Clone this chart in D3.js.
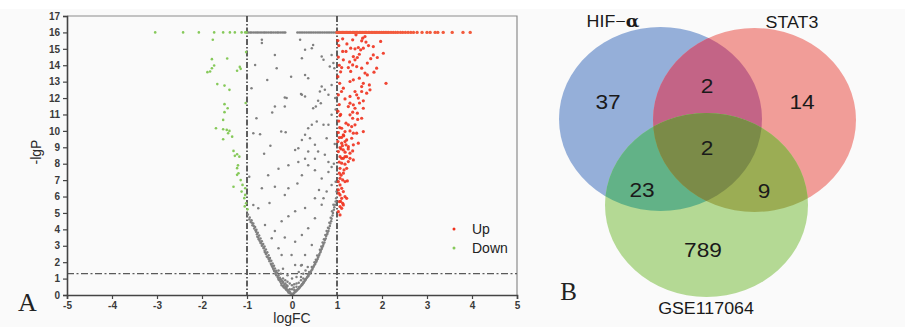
<!DOCTYPE html>
<html>
<head>
<meta charset="utf-8">
<script src="https://cdn.jsdelivr.net/npm/d3@7"></script>
<style>
  html, body { margin: 0; padding: 0; background: #fff; }
  svg { display: block; font-family: "Liberation Sans", Arial, sans-serif; }
</style>
</head>
<body>
<svg id="fig" width="905" height="327"></svg>
<script>
// ---- data ----
const xTicks = [-5, -4, -3, -2, -1, 0, 1, 2, 3, 4, 5];
const yTicks = [0, 1, 2, 3, 4, 5, 6, 7, 8, 9, 10, 11, 12, 13, 14, 15, 16, 17];
const fcCut = [-1, 1];
const pCut = 1.3;
const capLgP = 16;   // -lgP is capped at 16 in the source plot

// points sitting on the cap line (logFC only)
const upCapX = [1.0, 1.03, 1.06, 1.09, 1.12, 1.15, 1.18, 1.21, 1.24, 1.27, 1.3, 1.34, 1.37, 1.4, 1.43, 1.46, 1.5,
  1.53, 1.56, 1.6, 1.63, 1.66, 1.7, 1.73, 1.77, 1.8, 1.84, 1.87, 1.91, 1.95, 1.99, 2.03, 2.07, 2.11, 2.15, 2.2,
  2.25, 2.3, 2.35, 2.41, 2.46, 2.52, 2.58, 2.64, 2.7, 2.78, 2.89, 3.0, 3.07, 3.18, 3.24, 3.36, 3.56, 3.8, 3.96];
const downCapX = [-3.04, -2.42, -2.07, -1.73, -1.53, -1.38, -1.27, -1.12, -1.04, -1.01];
const grayCapX = [-0.97, -0.93, -0.9, -0.86, -0.82, -0.78, -0.75, -0.71, -0.67, -0.63, -0.6, -0.56, -0.52, -0.48,
  -0.45, -0.41, -0.37, -0.33, -0.3, -0.26, -0.22, -0.18, -0.15, 0.12, 0.16, 0.2, 0.24, 0.28, 0.32, 0.36, 0.4,
  0.44, 0.48, 0.52, 0.56, 0.6, 0.64, 0.68, 0.72, 0.76, 0.8, 0.84, 0.88, 0.92, 0.96];

// [logFC, -lgP]
const upPoints = [
  [1.126, 15.61], [1.348, 15.55], [1.422, 15.85], [1.57, 15.65], [1.622, 15.75], [1.548, 15.49], [1.644, 15.41],
  [1.97, 15.45], [1.807, 15.14], [1.304, 15.04], [1.4, 15.0], [1.474, 15.08], [1.526, 14.94], [1.585, 15.04],
  [1.126, 14.84], [1.2, 14.84], [2.03, 14.73], [1.896, 14.47], [1.807, 14.63], [1.363, 14.53], [1.452, 14.47],
  [1.4, 14.33], [1.496, 14.67], [1.141, 14.33], [1.674, 14.13], [1.104, 13.86], [1.252, 13.86], [1.348, 14.02],
  [1.437, 13.92], [1.548, 13.82], [1.881, 13.82], [1.822, 13.58], [1.674, 13.41], [1.622, 13.52], [1.304, 13.62],
  [1.496, 13.21], [1.585, 12.9], [1.719, 12.8], [1.363, 13.11], [1.289, 13.01], [1.548, 12.7], [2.089, 12.9],
  [1.141, 12.6], [1.4, 12.4], [1.548, 12.4], [1.659, 12.3], [1.437, 12.2], [1.289, 12.1], [1.474, 12.0],
  [1.733, 12.5], [1.178, 11.95], [1.585, 11.83], [1.363, 11.59], [1.289, 11.69], [1.252, 11.48], [1.4, 11.38],
  [1.348, 11.14], [1.452, 11.08], [1.585, 11.38], [1.289, 10.98], [1.348, 10.77], [1.067, 10.93], [1.548, 10.77],
  [1.2, 10.47], [1.252, 10.37], [1.326, 10.26], [1.4, 10.37], [1.104, 10.16], [1.178, 9.96], [1.289, 10.0],
  [1.363, 9.86], [1.141, 9.76], [1.052, 9.59], [1.215, 9.45], [1.326, 9.55], [1.437, 9.86], [1.585, 9.96],
  [1.104, 9.25], [1.178, 9.35], [1.067, 8.98], [1.252, 9.04], [1.363, 9.15], [1.141, 8.84], [1.03, 8.74],
  [1.289, 8.64], [1.178, 8.43], [1.104, 8.33], [1.474, 9.25], [1.348, 8.78], [1.02, 9.35],
  [1.067, 8.43], [1.141, 8.33], [1.215, 8.43], [1.289, 8.33], [1.363, 8.23], [1.104, 8.03], [1.178, 7.97],
  [1.252, 8.13], [1.067, 7.72], [1.156, 7.62], [1.215, 7.72], [1.052, 7.42], [1.141, 7.42], [1.067, 7.11],
  [1.126, 7.01], [1.03, 6.91], [1.178, 6.91], [1.23, 6.95], [1.067, 6.71], [1.104, 6.5], [1.03, 6.4],
  [1.141, 6.3], [1.067, 6.1], [1.178, 5.99], [1.104, 5.89], [1.052, 5.69], [1.126, 5.59], [1.067, 5.39],
  [1.104, 5.28], [1.03, 5.08], [1.067, 4.88], [1.141, 5.49], [1.215, 5.89],
  [1.02, 15.5], [1.04, 15.2], [1.03, 14.5], [1.05, 14.0], [1.02, 13.3], [1.06, 12.9], [1.03, 12.2], [1.05, 11.6],
  [1.02, 11.2], [1.04, 10.6], [1.06, 10.2], [1.03, 9.9], [1.08, 13.6], [1.1, 12.4], [1.08, 11.0], [1.1, 9.6],
  [1.09, 8.9], [1.12, 9.1], [1.15, 9.7], [1.2, 9.15], [1.25, 8.9], [1.18, 8.7], [1.05, 8.1], [1.09, 7.3],
  [1.04, 6.2], [1.08, 5.7], [1.22, 15.3], [1.28, 14.2], [1.7, 15.2], [1.75, 14.4], [1.46, 10.7], [1.5, 11.7]
];

const downPoints = [
  [-1.76, 15.55], [-1.78, 14.37], [-1.44, 14.41], [-1.73, 13.98], [-1.78, 13.82], [-1.88, 13.58], [-1.82, 13.62],
  [-1.22, 13.66], [-1.14, 13.78], [-1.66, 12.85], [-1.5, 12.76], [-1.39, 12.5], [-1.5, 11.63], [-1.43, 11.38],
  [-1.5, 11.14], [-1.53, 10.67], [-1.69, 10.16], [-1.53, 10.1], [-1.45, 10.06], [-1.39, 10.0], [-1.42, 9.86],
  [-1.53, 9.49], [-1.33, 9.65], [-1.3, 8.78], [-1.27, 8.48], [-1.22, 8.58], [-1.17, 8.43], [-1.22, 7.73],
  [-1.19, 7.42], [-1.22, 7.32], [-1.3, 6.6], [-1.1, 6.71], [-1.04, 6.5], [-1.12, 6.3], [-1.04, 6.1],
  [-1.06, 5.9], [-1.02, 5.59], [-0.99, 5.22], [-1.03, 11.7], [-1.02, 14.8], [-1.16, 13.9], [-1.2, 7.9],
  [-1.14, 7.0], [-1.05, 5.4]
];

const grayPoints = [
  // left branch of the dense V
  [-0.03, 0.12], [-0.06, 0.22], [-0.09, 0.3], [-0.12, 0.42], [-0.14, 0.5], [-0.17, 0.62], [-0.2, 0.75],
  [-0.22, 0.85], [-0.25, 0.96], [-0.27, 1.05], [-0.3, 1.2], [-0.33, 1.35], [-0.35, 1.48], [-0.38, 1.62],
  [-0.4, 1.78], [-0.43, 1.92], [-0.46, 2.08], [-0.49, 2.25], [-0.52, 2.42], [-0.55, 2.6], [-0.58, 2.78],
  [-0.61, 2.95], [-0.64, 3.1], [-0.67, 3.28], [-0.7, 3.45], [-0.73, 3.62], [-0.76, 3.8], [-0.79, 3.98],
  [-0.82, 4.15], [-0.86, 4.35], [-0.9, 4.55], [-0.94, 4.72], [-0.98, 4.9],
  [-0.01, 0.05], [0.0, 0.02], [-0.05, 0.1], [-0.1, 0.25], [-0.15, 0.4], [-0.18, 0.45], [-0.2, 0.55],
  [-0.24, 0.7], [-0.26, 0.8], [-0.3, 0.95], [-0.31, 1.05], [-0.35, 1.2], [-0.37, 1.3], [-0.4, 1.5],
  [-0.42, 1.6], [-0.44, 1.75], [-0.47, 1.9], [-0.5, 2.05], [-0.52, 2.2], [-0.56, 2.35], [-0.58, 2.5],
  [-0.61, 2.7], [-0.63, 2.85], [-0.67, 3.0], [-0.69, 3.15], [-0.72, 3.3], [-0.75, 3.5], [-0.78, 3.7],
  [-0.8, 3.85], [-0.84, 4.05], [-0.88, 4.25], [-0.92, 4.45], [-0.95, 4.6],
  [-0.08, 0.15], [-0.13, 0.32], [-0.19, 0.52], [-0.23, 0.6], [-0.28, 0.9], [-0.32, 1.1], [-0.36, 1.4],
  [-0.39, 1.45], [-0.43, 1.7], [-0.46, 1.85], [-0.5, 2.15], [-0.54, 2.3], [-0.57, 2.55], [-0.6, 2.6],
  [-0.63, 2.9], [-0.66, 3.05], [-0.7, 3.2], [-0.74, 3.4], [-0.77, 3.55], [-0.81, 3.95], [-0.85, 4.2],
  [-0.89, 4.4],
  // right branch of the dense V
  [0.03, 0.1], [0.06, 0.18], [0.09, 0.25], [0.12, 0.32], [0.15, 0.4], [0.18, 0.5], [0.21, 0.6], [0.24, 0.7],
  [0.27, 0.8], [0.3, 0.92], [0.33, 1.05], [0.36, 1.15], [0.39, 1.28], [0.42, 1.4], [0.45, 1.55], [0.48, 1.72],
  [0.51, 1.88], [0.54, 2.02], [0.57, 2.2], [0.6, 2.4], [0.63, 2.6], [0.66, 2.8], [0.69, 3.0], [0.72, 3.2],
  [0.75, 3.45], [0.78, 3.7], [0.81, 3.9], [0.84, 4.2], [0.87, 4.5], [0.9, 4.85], [0.93, 5.2], [0.96, 5.5],
  [0.98, 5.9], [0.99, 6.3],
  [0.02, 0.05], [0.05, 0.12], [0.08, 0.2], [0.11, 0.28], [0.14, 0.36], [0.17, 0.44], [0.2, 0.55], [0.23, 0.64],
  [0.26, 0.74], [0.28, 0.85], [0.31, 0.98], [0.34, 1.1], [0.37, 1.22], [0.4, 1.35], [0.43, 1.5], [0.46, 1.65],
  [0.49, 1.8], [0.52, 1.95], [0.55, 2.1], [0.58, 2.3], [0.61, 2.5], [0.64, 2.7], [0.67, 2.9], [0.7, 3.1],
  [0.73, 3.35], [0.76, 3.6], [0.79, 3.8], [0.82, 4.05], [0.85, 4.35], [0.88, 4.65], [0.91, 5.0], [0.94, 5.35],
  [0.97, 5.7],
  [0.1, 0.3], [0.16, 0.48], [0.22, 0.66], [0.25, 0.78], [0.29, 0.95], [0.35, 1.25], [0.38, 1.4], [0.44, 1.7],
  [0.5, 2.0], [0.53, 2.15], [0.56, 2.4], [0.62, 2.75], [0.65, 2.95], [0.68, 3.2], [0.71, 3.4], [0.74, 3.65],
  [0.77, 3.9], [0.8, 4.1], [0.83, 4.4], [0.86, 4.7], [0.89, 5.1], [0.92, 5.5],
  // bottom of the V, filled in
  [-0.2, 1.0], [-0.15, 0.9], [-0.1, 0.8], [-0.05, 0.7], [0.0, 0.6], [0.05, 0.65], [0.1, 0.7], [0.15, 0.75],
  [0.2, 0.9], [0.25, 1.0], [-0.1, 0.55], [0.0, 0.35], [0.05, 0.3], [-0.05, 0.35], [0.1, 0.5], [-0.15, 0.7],
  [-0.2, 0.8], [0.2, 1.1], [0.25, 1.3], [-0.25, 1.3], [-0.3, 1.5], [0.3, 1.5], [0.0, 1.0], [-0.1, 1.2],
  [0.1, 1.1], [0.15, 1.4], [-0.2, 1.6], [0.35, 1.7], [0.2, 1.8], [-0.05, 0.2], [0.04, 0.45], [-0.12, 0.6],
  // sparse points inside the V and above it
  [-0.38, 6.6], [-0.16, 6.1], [-0.08, 6.5], [0.22, 7.3], [0.36, 7.9], [0.51, 7.6], [0.66, 7.1], [0.81, 7.5],
  [0.88, 6.7], [0.77, 6.3], [0.66, 5.5], [0.51, 5.9], [0.29, 5.3], [0.07, 5.1], [-0.08, 4.8], [-0.23, 4.5],
  [-0.38, 3.9], [-0.16, 3.5], [0.07, 3.25], [0.22, 3.66], [0.36, 4.07], [0.51, 4.68], [0.44, 3.05], [0.29, 2.44],
  [0.22, 1.83], [-0.01, 2.44], [0.07, 1.83], [-0.23, 2.44], [-0.3, 2.85], [-0.45, 3.46], [-0.6, 4.27],
  [-0.75, 5.29], [-0.86, 5.49], [-0.67, 6.5], [-0.53, 7.3], [-0.3, 7.7], [-0.08, 7.9], [0.14, 8.1], [0.29, 8.3],
  [0.81, 8.1], [0.88, 7.8], [0.51, 8.3],
  [-0.67, 15.55], [-0.67, 15.35], [-0.38, 14.63], [-0.82, 14.02], [-0.34, 13.82], [-0.16, 12.03], [-0.12, 12.0],
  [-0.38, 11.48], [-0.16, 11.48], [-0.44, 11.12], [-0.79, 10.77], [-0.86, 9.86], [-0.71, 9.8], [-0.24, 9.96],
  [-0.14, 9.92], [0.07, 8.84], [0.14, 8.94], [0.22, 9.45], [0.29, 9.76], [0.36, 10.16], [0.44, 10.37],
  [0.55, 10.57], [0.47, 11.38], [0.53, 11.48], [0.58, 11.83], [0.66, 12.7], [0.62, 12.4], [0.73, 12.5],
  [0.81, 12.2], [0.88, 12.8], [0.22, 12.2], [0.29, 12.1], [0.2, 12.24], [0.36, 13.2], [0.29, 13.4], [0.22, 14.43],
  [0.29, 14.94], [0.44, 15.04], [0.47, 15.24], [0.66, 14.53], [0.7, 14.33], [0.88, 14.63], [0.92, 14.13],
  [0.94, 13.82], [0.84, 13.92], [0.18, 15.55], [0.64, 11.69], [0.7, 10.37], [0.81, 10.37], [0.77, 9.55],
  [0.88, 10.98], [0.58, 8.74], [0.73, 8.54], [0.36, 8.74], [0.51, 9.15], [0.4, 9.55],
  [-0.62, 8.6], [-0.48, 9.1], [-0.95, 7.2], [-0.9, 12.6], [-0.55, 13.1], [0.95, 9.2], [0.97, 11.3],
  [0.96, 12.0], [0.93, 8.0], [0.97, 6.9], [-0.02, 13.3], [0.6, 6.4], [0.7, 5.9], [-0.5, 5.6], [0.12, 6.8]
];

// venn
const vennSets = ['HIF\u2212', 'STAT3', 'GSE117064'];
const vennRegions = ['HIF only', 'HIF & STAT3', 'STAT3 only', 'all three', 'HIF & GSE', 'STAT3 & GSE', 'GSE only'];
const vennCounts = [37, 2, 14, 2, 23, 9, 789];

// ---- drawing ----
const svg = d3.select('#fig');
svg.append('rect').attr('x', 0).attr('y', 9).attr('width', 905).attr('height', 318).attr('fill', '#fafafa');

const x = d3.scaleLinear().domain([-5, 5]).range([67, 517]);
const y = d3.scaleLinear().domain([0, 17]).range([295, 16]);

const gA = svg.append('g');

// frame (top/right)
gA.append('path')
  .attr('d', `M${x(-5)},${y(17)}H${x(5)}V${y(0)}`)
  .attr('fill', 'none').attr('stroke', '#8c8c8c').attr('stroke-width', 1.2);

// threshold lines
fcCut.forEach(v => {
  gA.append('line')
    .attr('x1', x(v)).attr('x2', x(v)).attr('y1', y(17)).attr('y2', y(0))
    .attr('stroke', '#444').attr('stroke-width', 1.7).attr('stroke-dasharray', '6,2,1.5,2');
});
gA.append('line')
  .attr('x1', x(-5)).attr('x2', x(5)).attr('y1', y(pCut)).attr('y2', y(pCut))
  .attr('stroke', '#5a5a5a').attr('stroke-width', 1.4).attr('stroke-dasharray', '7,2.5,2,2.5');

const dots = gA.append('g');
dots.selectAll('circle.g').data(grayPoints.concat(grayCapX.map(v => [v, capLgP])))
  .enter().append('circle')
  .attr('cx', d => x(d[0])).attr('cy', d => y(d[1])).attr('r', 1.25)
  .attr('fill', '#808080');
dots.selectAll('circle.d').data(downPoints.concat(downCapX.map(v => [v, capLgP])))
  .enter().append('circle')
  .attr('cx', d => x(d[0])).attr('cy', d => y(d[1])).attr('r', 1.3)
  .attr('fill', '#86c95a');
dots.selectAll('circle.u').data(upPoints)
  .enter().append('circle')
  .attr('cx', d => x(d[0])).attr('cy', d => y(d[1])).attr('r', 1.6)
  .attr('fill', '#f0301c').attr('fill-opacity', 0.9);
dots.selectAll('circle.uc').data(upCapX.map(v => [v, capLgP]))
  .enter().append('circle')
  .attr('cx', d => x(d[0])).attr('cy', d => y(d[1])).attr('r', 1.7)
  .attr('fill', '#f25a3c');

// axes
const axX = gA.append('g').attr('transform', `translate(0,${y(0)})`)
  .call(d3.axisBottom(x).tickValues(xTicks).tickSize(4).tickPadding(3).tickFormat(d3.format('d')));
const axY = gA.append('g').attr('transform', `translate(${x(-5)},0)`)
  .call(d3.axisLeft(y).tickValues(yTicks).tickSize(4).tickPadding(3).tickFormat(d3.format('d')));
[axX, axY].forEach(ax => {
  ax.select('.domain').attr('stroke', '#444').attr('stroke-width', 1.6);
  ax.selectAll('.tick line').attr('stroke', '#444').attr('stroke-width', 1.2);
  ax.selectAll('.tick text').attr('fill', '#3a3a3a').style('font-size', '10px').style('font-weight', 'bold')
    .style('font-family', '"Liberation Sans", Arial, sans-serif');
});
axX.selectAll('.tick text').text(d => d < 0 ? '-' + Math.abs(d) : d);

gA.append('text').attr('transform', 'translate(41,152) rotate(-90)')
  .attr('text-anchor', 'middle').style('font-size', '14px').attr('fill', '#2a2a2a').text('-lgP');
gA.append('text').attr('x', 292).attr('y', 323)
  .attr('text-anchor', 'middle').style('font-size', '14px').attr('fill', '#2a2a2a').text('logFC');
gA.append('text').attr('x', 27.5).attr('y', 311)
  .attr('text-anchor', 'middle').style('font-size', '26px')
  .style('font-family', '"Liberation Serif", "Times New Roman", serif').attr('fill', '#222').text('A');

// legend
const leg = gA.append('g');
[['Up', '#f0301c', 229], ['Down', '#86c95a', 248]].forEach(([t, c, ly]) => {
  leg.append('circle').attr('cx', 454).attr('cy', ly).attr('r', 1.5).attr('fill', c);
  leg.append('text').attr('x', 472).attr('y', ly + 5).style('font-size', '14px').attr('fill', '#222').text(t);
});

// ---- panel B: venn ----
const E = { rx: 101.5, ry: 92, c: [[660.5, 119], [754.5, 120], [706.5, 205]] };
const fills = { b: '#95afd9', r: '#f19d98', g: '#b4d994', br: '#c36486', bg: '#62b287', rg: '#9bad54', brg: '#7b8b48' };
const defs = svg.append('defs');
['cB', 'cR', 'cG'].forEach((id, i) => {
  defs.append('clipPath').attr('id', id).append('ellipse')
    .attr('cx', E.c[i][0]).attr('cy', E.c[i][1]).attr('rx', E.rx).attr('ry', E.ry);
});
const gB = svg.append('g');
const ell = (sel, i, fill) => sel.append('ellipse')
  .attr('cx', E.c[i][0]).attr('cy', E.c[i][1]).attr('rx', E.rx).attr('ry', E.ry).attr('fill', fill);
ell(gB, 0, fills.b);
ell(gB, 1, fills.r);
ell(gB.append('g').attr('clip-path', 'url(#cR)'), 0, fills.br);
ell(gB, 2, fills.g);
ell(gB.append('g').attr('clip-path', 'url(#cB)'), 2, fills.bg);
ell(gB.append('g').attr('clip-path', 'url(#cR)'), 2, fills.rg);
ell(gB.append('g').attr('clip-path', 'url(#cR)').append('g').attr('clip-path', 'url(#cB)'), 2, fills.brg);

const stretch = 'scale(1.08,1)';
const numPos = [[608, 101], [707, 85], [802, 101], [707, 147], [642, 189], [764, 190], [703, 249]];
vennCounts.forEach((n, i) => {
  gB.append('text').attr('transform', `translate(${numPos[i][0]},${numPos[i][1] + 7.5}) ${stretch}`)
    .attr('text-anchor', 'middle').style('font-size', '21px').attr('fill', '#1a1a1a').text(n);
});
const setPos = [[613, 27], [792, 27.5], [706, 313.5]];
vennSets.forEach((s, i) => {
  const t = gB.append('text').attr('transform', `translate(${setPos[i][0]},${setPos[i][1]}) ${stretch}`)
    .attr('text-anchor', 'middle').style('font-size', '16.5px').attr('fill', '#1a1a1a').text(s);
  if (i === 0) t.append('tspan').style('font-weight', 'bold')
    .style('font-family', '"DejaVu Serif", serif').text('\u03b1');
});
gB.append('text').attr('x', 568.5).attr('y', 300)
  .attr('text-anchor', 'middle').style('font-size', '25px')
  .style('font-family', '"Liberation Serif", "Times New Roman", serif').attr('fill', '#222').text('B');
</script>
</body>
</html>
